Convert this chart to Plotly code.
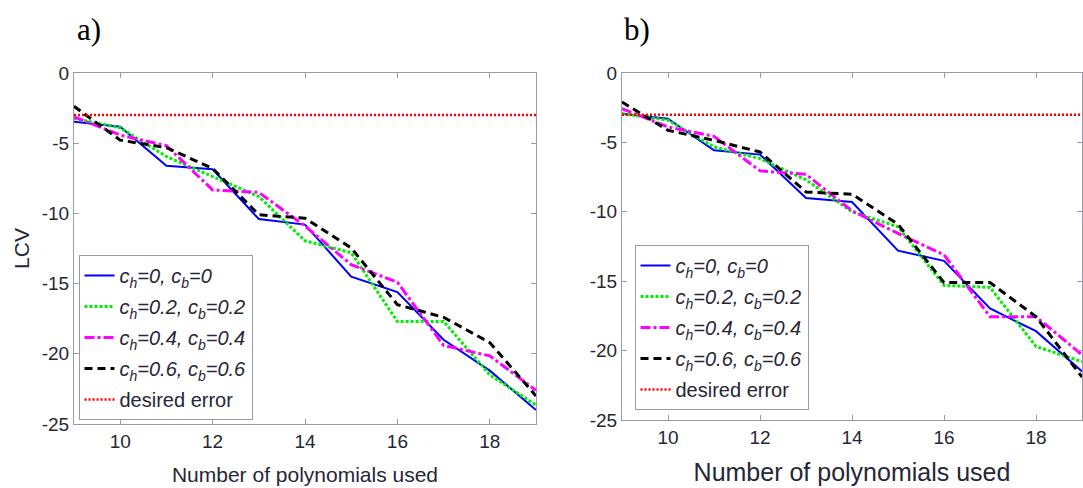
import plotly.graph_objects as go

# ---------------- data ----------------
n_poly = [9, 10, 11, 12, 13, 14, 15, 16, 17, 18, 19]

# panel a)
a_c0 = [-3.48, -3.83, -6.6, -6.86, -10.4, -10.8, -14.5, -15.6, -19.0, -21.2, -24.0]
a_c02 = [-3.24, -3.9, -5.95, -7.4, -8.8, -11.95, -12.8, -17.7, -17.7, -21.5, -23.65]
a_c04 = [-3.12, -4.42, -5.18, -8.33, -8.5, -10.9, -13.65, -14.9, -19.4, -20.15, -22.6]
a_c06 = [-2.37, -4.78, -5.32, -6.79, -10.1, -10.34, -12.46, -16.5, -17.4, -19.2, -23.0]

# panel b)
b_c0 = [-2.93, -3.29, -5.57, -5.88, -9.0, -9.29, -12.8, -13.53, -16.96, -18.6, -21.5]
b_c02 = [-2.93, -3.4, -5.33, -6.17, -7.7, -10.0, -11.08, -15.3, -15.45, -19.7, -20.8]
b_c04 = [-2.57, -3.89, -4.56, -7.05, -7.3, -9.93, -11.56, -13.1, -17.56, -17.56, -20.3]
b_c06 = [-2.09, -4.13, -4.85, -5.69, -8.57, -8.73, -10.9, -15.1, -15.1, -17.56, -21.9]

desired_error = -3.0

series_names = [
    "<i>c<sub>h</sub>=0, c<sub>b</sub>=0</i>",
    "<i>c<sub>h</sub>=0.2, c<sub>b</sub>=0.2</i>",
    "<i>c<sub>h</sub>=0.4, c<sub>b</sub>=0.4</i>",
    "<i>c<sub>h</sub>=0.6, c<sub>b</sub>=0.6</i>",
    "desired error",
]

x_ticks = [10, 12, 14, 16, 18]
y_ticks = [0, -5, -10, -15, -20, -25]
y_ticktext = ["0", "-5", "-10", "-15", "-20", "-25"]

# ---------------- styles ----------------
W, H = 1083, 488
FONT = "Arial, Liberation Sans, sans-serif"
TXT = "#262636"
AXC = "#9a9aa4"

styles = [
    dict(color="#0000ff", width=2, dash="solid"),
    dict(color="#00ee00", width=3, dash="3px,2px"),
    dict(color="#ff00ff", width=3, dash="10px,3px,3px,3px"),
    dict(color="#000000", width=3, dash="8px,5px"),
    dict(color="#ff0000", width=2.5, dash="2px,2px"),
]

fig = go.Figure()

def add_panel(series, xa, ya, legend, tag):
    for i, (name, ys, st) in enumerate(zip(series_names[:4], series, styles[:4])):
        fig.add_trace(go.Scatter(
            x=n_poly, y=ys, mode="lines", name=name, line=st,
            xaxis=xa, yaxis=ya, legend=legend, showlegend=True,
            legendgroup=f"{tag}{i}",
        ))
    fig.add_trace(go.Scatter(
        x=[n_poly[0], n_poly[-1]], y=[desired_error, desired_error],
        mode="lines", name=series_names[4], line=styles[4],
        xaxis=xa, yaxis=ya, legend=legend, showlegend=True,
        legendgroup=f"{tag}4",
    ))

add_panel([a_c0, a_c02, a_c04, a_c06], "x", "y", "legend", "a")
add_panel([b_c0, b_c02, b_c04, b_c06], "x2", "y2", "legend2", "b")

def px_x(p):
    return p / W

def px_y(p):
    return (H - p) / H

axis_common = dict(
    showline=True, linecolor=AXC, linewidth=1, mirror="ticks",
    ticks="inside", ticklen=5, tickcolor=AXC, tickwidth=1,
    showgrid=False, zeroline=False, automargin=False,
    tickfont=dict(family=FONT, size=19, color=TXT),
)

legend_common = dict(
    bgcolor="white", bordercolor=AXC, borderwidth=1,
    font=dict(family=FONT, size=20, color=TXT),
    xanchor="left", yanchor="top", tracegroupgap=2,
    itemwidth=30,
)

fig.update_layout(
    width=W, height=H,
    margin=dict(l=0, r=0, t=0, b=0),
    paper_bgcolor="white", plot_bgcolor="white",
    xaxis=dict(domain=[px_x(74), px_x(536)], range=[9, 19], tickvals=x_ticks,
               anchor="y",
               title=dict(text="Number of polynomials used", standoff=16,
                          font=dict(family=FONT, size=21, color=TXT)),
               **axis_common),
    yaxis=dict(domain=[px_y(424), px_y(73)], range=[-25, 0], tickvals=y_ticks,
               ticktext=y_ticktext, anchor="x",
               title=dict(text="LCV", standoff=6,
                          font=dict(family=FONT, size=21, color=TXT)),
               **axis_common),
    xaxis2=dict(domain=[px_x(622), px_x(1082)], range=[9, 19], tickvals=x_ticks,
                anchor="y2",
                title=dict(text="Number of polynomials used", standoff=16,
                           font=dict(family=FONT, size=25, color=TXT)),
                **axis_common),
    yaxis2=dict(domain=[px_y(420), px_y(73)], range=[-25, 0], tickvals=y_ticks,
                ticktext=y_ticktext, anchor="x2",
                **axis_common),
    legend=dict(x=px_x(78.5), y=px_y(255), **legend_common),
    legend2=dict(x=px_x(634.5), y=px_y(245), **legend_common),
    annotations=[
        dict(text="a)", x=px_x(75), y=px_y(29), xref="paper", yref="paper",
             xanchor="left", yanchor="middle", showarrow=False,
             font=dict(family="Liberation Serif, Times New Roman, serif", size=31, color="#000000")),
        dict(text="b)", x=px_x(622), y=px_y(29), xref="paper", yref="paper",
             xanchor="left", yanchor="middle", showarrow=False,
             font=dict(family="Liberation Serif, Times New Roman, serif", size=31, color="#000000")),
    ],
)

fig.write_html("out.html")
